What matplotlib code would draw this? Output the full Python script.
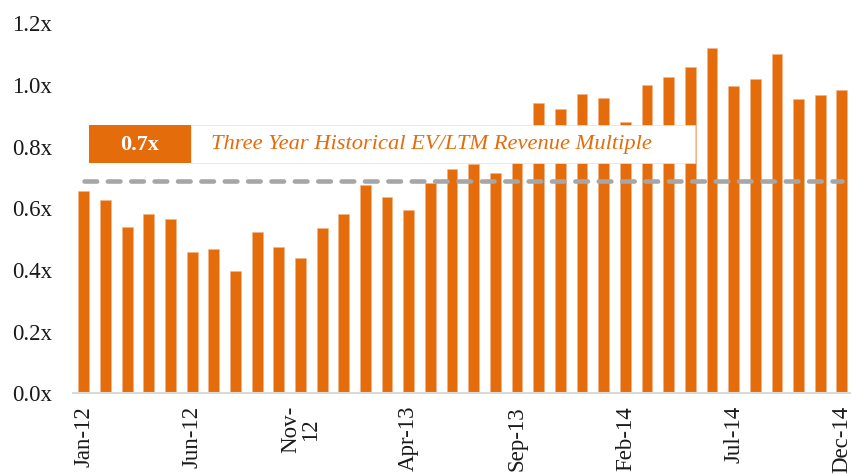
import matplotlib
matplotlib.use('Agg')

import matplotlib.pyplot as plt
import numpy as np
from matplotlib.patches import Rectangle

# Monthly EV/LTM revenue multiples, Jan-12 .. Dec-14
months = ["Jan-12", "Feb-12", "Mar-12", "Apr-12", "May-12", "Jun-12",
          "Jul-12", "Aug-12", "Sep-12", "Oct-12", "Nov-12", "Dec-12",
          "Jan-13", "Feb-13", "Mar-13", "Apr-13", "May-13", "Jun-13",
          "Jul-13", "Aug-13", "Sep-13", "Oct-13", "Nov-13", "Dec-13",
          "Jan-14", "Feb-14", "Mar-14", "Apr-14", "May-14", "Jun-14",
          "Jul-14", "Aug-14", "Sep-14", "Oct-14", "Nov-14", "Dec-14"]
multiples = [0.656, 0.626, 0.538, 0.583, 0.565, 0.457,
             0.467, 0.397, 0.523, 0.476, 0.440, 0.537,
             0.581, 0.675, 0.637, 0.594, 0.683, 0.727,
             0.743, 0.715, 0.750, 0.943, 0.921, 0.970,
             0.958, 0.880, 0.999, 1.027, 1.059, 1.119,
             0.997, 1.019, 1.099, 0.954, 0.967, 0.983]
historical_avg = 0.69
avg_label = "0.7x"
avg_text = "Three Year Historical EV/LTM Revenue Multiple"

tick_labels = {0: "Jan-12", 5: "Jun-12", 10: "Nov-\n12", 15: "Apr-13",
               20: "Sep-13", 25: "Feb-14", 30: "Jul-14", 35: "Dec-14"}
y_ticks = [0.0, 0.2, 0.4, 0.6, 0.8, 1.0, 1.2]

orange = "#E46C0A"
grey = "#A6A6A6"

plt.rcParams['font.family'] = ['Liberation Serif', 'DejaVu Serif']

fig = plt.figure(figsize=(8.51, 4.74), dpi=100)
ax = fig.add_axes([0.0858, 0.170, 0.9142, 0.781])

x = np.arange(len(months))
ax.bar(x, multiples, width=0.5, color=orange, edgecolor="#F2B48A",
       linewidth=0.4, zorder=2)

# historical average line
line, = ax.plot(x, [historical_avg] * len(x), color=grey, lw=3.3,
                dash_capstyle='round', zorder=4)
line.set_dashes((2.75, 2.35))

# label boxes
ax.add_patch(Rectangle((0.23, 0.746), 4.71, 0.124, facecolor=orange,
                       edgecolor='none', zorder=5))
ax.add_patch(Rectangle((4.94, 0.746), 23.26, 0.124, facecolor='white',
                       edgecolor='#E0E0E0', linewidth=0.5, zorder=5))
ax.text(2.585, 0.806, avg_label, color='white', fontsize=16,
        fontweight='bold', ha='center', va='center', zorder=6)
ax.text(5.85, 0.806, avg_text, color=orange, fontsize=16.2, style='italic',
        ha='left', va='center', zorder=6)

ax.set_xlim(-0.5, 35.42)
ax.set_ylim(0, 1.2)
ax.set_yticks(y_ticks)
ax.set_yticklabels([f"{v:.1f}x" for v in y_ticks], fontsize=16.5,
                   color='#1a1a1a')
ax.set_xticks(list(tick_labels.keys()))
ax.set_xticklabels(list(tick_labels.values()), rotation=90, fontsize=16.5,
                   linespacing=0.9, color='#1a1a1a')
ax.tick_params(axis='both', length=0)
ax.tick_params(axis='y', pad=15)
ax.tick_params(axis='x', pad=9)

for s in ['top', 'right', 'left']:
    ax.spines[s].set_visible(False)
ax.spines['bottom'].set_color('#D9D9D9')
ax.spines['bottom'].set_linewidth(1.5)

fig.savefig("out.png", dpi=100)
plt.close()
